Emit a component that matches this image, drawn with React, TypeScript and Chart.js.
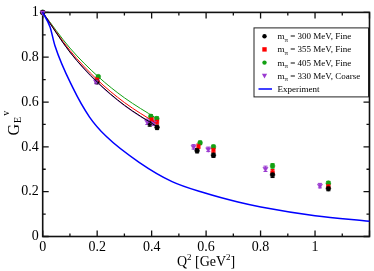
import React, { useEffect, useRef } from 'react';
import { Chart, registerables } from 'chart.js';
Chart.register(...registerables);

const FONT = '"Liberation Serif", "Times New Roman", serif';

// Lattice data (Q^2 in GeV^2, G_E^v)
const q300 = [0, 0.2, 0.393, 0.42, 0.567, 0.627, 0.844, 1.049];
const g300 = [1, 0.69, 0.504, 0.487, 0.383, 0.363, 0.275, 0.214];
const e300 = [0, 0.008, 0.012, 0.01, 0.01, 0.01, 0.012, 0.01];

const q355 = [0, 0.2, 0.4, 0.42, 0.572, 0.627, 0.844, 1.049];
const g355 = [1, 0.7, 0.522, 0.512, 0.403, 0.386, 0.287, 0.224];
const e355 = [0, 0.008, 0.01, 0.01, 0.01, 0.01, 0.012, 0.01];

const q405 = [0, 0.204, 0.397, 0.419, 0.578, 0.627, 0.844, 1.049];
const g405 = [1, 0.713, 0.536, 0.526, 0.418, 0.4, 0.315, 0.238];
const e405 = [0, 0.006, 0.008, 0.008, 0.008, 0.008, 0.01, 0.008];

const q330 = [0, 0.196, 0.384, 0.408, 0.554, 0.608, 0.818, 1.018];
const g330 = [1, 0.692, 0.512, 0.507, 0.4, 0.389, 0.302, 0.227];
const e330 = [0, 0.01, 0.012, 0.012, 0.01, 0.01, 0.012, 0.01];

// connecting fit curves for low-Q^2 points
const l300Q = [0, 0.1, 0.2, 0.3, 0.42];
const l300G = [1, 0.823, 0.69, 0.586, 0.49];
const l355Q = [0, 0.1, 0.2, 0.3, 0.42];
const l355G = [1, 0.83, 0.7, 0.598, 0.503];
const l405Q = [0, 0.1, 0.204, 0.3, 0.419];
const l405G = [1, 0.841, 0.713, 0.619, 0.526];
const l330Q = [0, 0.1, 0.196, 0.3, 0.408];
const l330G = [1, 0.822, 0.692, 0.584, 0.497];

// Experiment curve
const expQ = [0, 0.027, 0.045, 0.111, 0.172, 0.233, 0.354, 0.475, 0.596, 0.717, 0.801, 1.0, 1.2];
const expG = [1, 0.935, 0.851, 0.663, 0.533, 0.447, 0.331, 0.245, 0.194, 0.154, 0.132, 0.093, 0.068];

const xMajor = [0, 0.2, 0.4, 0.6, 0.8, 1.0, 1.2];
const xMinor = [0.1, 0.3, 0.5, 0.7, 0.9, 1.1];
const yMajor = [0, 0.2, 0.4, 0.6, 0.8, 1.0];
const yMinor = [0.1, 0.3, 0.5, 0.7, 0.9];

const C300 = '#000000';
const C355 = '#ff0000';
const C405 = '#12a012';
const C330 = '#9a3bd0';
const CEXP = '#0000ff';

const legendItems = [
  { pre: 'm', sub: 'π', post: ' = 300 MeV, Fine', color: C300, style: 'circle' },
  { pre: 'm', sub: 'π', post: ' = 355 MeV, Fine', color: C355, style: 'rect' },
  { pre: 'm', sub: 'π', post: ' = 405 MeV, Fine', color: C405, style: 'circle' },
  { pre: 'm', sub: 'π', post: ' = 330 MeV, Coarse', color: C330, style: 'tri' },
  { pre: 'Experiment', sub: '', post: '', color: CEXP, style: 'line' },
];

const zip = (xs: number[], ys: number[]) => xs.map((x, i) => ({ x, y: ys[i] }));

const framePlugin = {
  id: 'frameTicks',
  beforeDatasetsDraw(chart: any) {
    const { ctx, chartArea: a, scales } = chart;
    const xs = scales.x, ys = scales.y;
    ctx.save();
    ctx.strokeStyle = '#111';
    ctx.lineWidth = 1.3;
    ctx.beginPath();
    xMajor.forEach((v) => {
      const x = xs.getPixelForValue(v);
      ctx.moveTo(x, a.bottom); ctx.lineTo(x, a.bottom - 6);
      ctx.moveTo(x, a.top); ctx.lineTo(x, a.top + 6);
    });
    xMinor.forEach((v) => {
      const x = xs.getPixelForValue(v);
      ctx.moveTo(x, a.bottom); ctx.lineTo(x, a.bottom - 3);
      ctx.moveTo(x, a.top); ctx.lineTo(x, a.top + 3);
    });
    yMajor.forEach((v) => {
      const y = ys.getPixelForValue(v);
      ctx.moveTo(a.left, y); ctx.lineTo(a.left + 6, y);
      ctx.moveTo(a.right, y); ctx.lineTo(a.right - 6, y);
    });
    yMinor.forEach((v) => {
      const y = ys.getPixelForValue(v);
      ctx.moveTo(a.left, y); ctx.lineTo(a.left + 3, y);
      ctx.moveTo(a.right, y); ctx.lineTo(a.right - 3, y);
    });
    ctx.stroke();
    ctx.lineWidth = 1.6;
    ctx.strokeRect(a.left, a.top, a.right - a.left, a.bottom - a.top);
    ctx.restore();

    // error bars
    chart.data.datasets.forEach((ds: any) => {
      if (!ds.errors) return;
      ctx.save();
      ctx.strokeStyle = ds.borderColor;
      ctx.lineWidth = 1;
      ctx.beginPath();
      ds.data.forEach((p: any, j: number) => {
        const e = ds.errors[j];
        if (!e) return;
        const x = xs.getPixelForValue(p.x);
        const y1 = ys.getPixelForValue(p.y - e);
        const y2 = ys.getPixelForValue(p.y + e);
        ctx.moveTo(x, y1); ctx.lineTo(x, y2);
        ctx.moveTo(x - 2, y1); ctx.lineTo(x + 2, y1);
        ctx.moveTo(x - 2, y2); ctx.lineTo(x + 2, y2);
      });
      ctx.stroke();
      ctx.restore();
    });
  },
  afterDraw(chart: any) {
    const { ctx, chartArea: a } = chart;
    ctx.save();
    ctx.fillStyle = '#000';
    ctx.textBaseline = 'alphabetic';
    // x title: Q^2 [GeV^2]
    const big = `14px ${FONT}`;
    const sm = `9px ${FONT}`;
    const parts = [
      { t: 'Q', f: big, dy: 0 },
      { t: '2', f: sm, dy: -6 },
      { t: ' [GeV', f: big, dy: 0 },
      { t: '2', f: sm, dy: -6 },
      { t: ']', f: big, dy: 0 },
    ];
    let w = 0;
    parts.forEach((p) => { ctx.font = p.f; w += ctx.measureText(p.t).width; });
    let x = (a.left + a.right) / 2 - w / 2;
    const by = a.bottom + 29;
    parts.forEach((p) => {
      ctx.font = p.f; ctx.fillText(p.t, x, by + p.dy); x += ctx.measureText(p.t).width;
    });
    // y title: G_E^v rotated
    ctx.save();
    ctx.translate(18.5, (a.top + a.bottom) / 2 + 11);
    ctx.rotate(-Math.PI / 2);
    ctx.font = `16px ${FONT}`;
    ctx.fillText('G', 0, 0);
    let rx = ctx.measureText('G').width + 1;
    ctx.font = `10px ${FONT}`;
    ctx.fillText('E', rx, 2);
    rx += ctx.measureText('E').width + 1;
    ctx.fillText('v', rx, -10);
    ctx.restore();

    // legend box
    const L = a.right - 115.5, T = a.top + 15.5, R = a.right - 1, B = a.top + 84.5;
    ctx.fillStyle = '#fff';
    ctx.fillRect(L, T, R - L, B - T);
    ctx.strokeStyle = '#222';
    ctx.lineWidth = 1;
    ctx.strokeRect(L, T, R - L, B - T);
    legendItems.forEach((it, i) => {
      const cy = T + 8.3 + i * 13.2;
      const sx = L + 10.5;
      ctx.fillStyle = it.color;
      ctx.strokeStyle = it.color;
      if (it.style === 'circle') {
        ctx.beginPath(); ctx.arc(sx, cy, 2.2, 0, Math.PI * 2); ctx.fill();
      } else if (it.style === 'rect') {
        ctx.fillRect(sx - 2.2, cy - 2.2, 4.4, 4.4);
      } else if (it.style === 'tri') {
        ctx.beginPath(); ctx.moveTo(sx - 2.6, cy - 2); ctx.lineTo(sx + 2.6, cy - 2); ctx.lineTo(sx, cy + 2.6); ctx.closePath(); ctx.fill();
      } else {
        ctx.lineWidth = 1.5;
        ctx.beginPath(); ctx.moveTo(L + 4.5, cy); ctx.lineTo(L + 18, cy); ctx.stroke();
      }
      ctx.fillStyle = '#000';
      let tx = L + 23.5;
      const base = cy + 3;
      ctx.font = `9px ${FONT}`;
      ctx.fillText(it.pre, tx, base); tx += ctx.measureText(it.pre).width;
      if (it.sub) {
        ctx.font = `7px ${FONT}`;
        ctx.fillText(it.sub, tx, base + 2.5); tx += ctx.measureText(it.sub).width;
      }
      ctx.font = `9px ${FONT}`;
      ctx.fillText(it.post, tx, base);
    });
    ctx.restore();
  },
};

const fmt = (v: number) => String(Math.round(v * 10) / 10);

export default function App() {
  const ref = useRef<HTMLCanvasElement | null>(null);
  useEffect(() => {
    document.body.style.margin = '0';
    const mk = (q: number[], g: number[], e: number[], color: string, style: any, r: number, rot = 0) => ({
      type: 'scatter' as const,
      data: zip(q, g),
      errors: e,
      showLine: false,
      borderColor: color,
      backgroundColor: color,
      pointStyle: style,
      pointRadius: r,
      pointBorderWidth: 0.5,
      pointRotation: rot,
      clip: false as any,
    });
    const ln = (q: number[], g: number[], color: string, width = 1) => ({
      type: 'line' as const,
      data: zip(q, g),
      borderColor: color,
      backgroundColor: color,
      borderWidth: width,
      pointRadius: 0,
      cubicInterpolationMode: 'monotone' as const,
      fill: false,
      clip: false as any,
    });
    const chart = new Chart(ref.current as HTMLCanvasElement, {
      type: 'scatter',
      data: {
        datasets: [
          ln(expQ, expG, CEXP, 1.5),
          ln(l300Q, l300G, C300),
          ln(l330Q, l330G, C330),
          ln(l355Q, l355G, C355),
          ln(l405Q, l405G, C405),
          mk(q330, g330, e330, C330, 'triangle', 3, 180),
          mk(q300, g300, e300, C300, 'circle', 2.4),
          mk(q355, g355, e355, C355, 'rect', 2.5),
          mk(q405, g405, e405, C405, 'circle', 2.4),
        ] as any,
      },
      options: {
        responsive: false,
        animation: false,
        devicePixelRatio: 1,
        layout: { padding: { top: 5.5, right: 1.3, left: 0, bottom: 0 } },
        plugins: { legend: { display: false }, tooltip: { enabled: false } },
        scales: {
          x: {
            type: 'linear',
            min: 0,
            max: 1.2,
            afterFit: (s: any) => { s.height = 34.5; },
            grid: { display: false, drawTicks: false },
            border: { display: false },
            ticks: {
              stepSize: 0.2,
              padding: 2,
              maxRotation: 0,
              autoSkip: false,
              color: '#000',
              font: { family: FONT, size: 14 },
              callback: (v: any) => (Number(v) > 1.1 ? '' : fmt(Number(v))),
            },
          },
          y: {
            type: 'linear',
            min: 0,
            max: 1,
            afterFit: (s: any) => { s.width = 42.7; },
            grid: { display: false, drawTicks: false },
            border: { display: false },
            ticks: {
              stepSize: 0.2,
              padding: 4,
              color: '#000',
              font: { family: FONT, size: 14 },
              callback: (v: any) => fmt(Number(v)),
            },
          },
        },
      } as any,
      plugins: [framePlugin],
    });
    return () => chart.destroy();
  }, []);
  return (
    <div style={{ position: 'absolute', left: 0, top: 0, width: 374, height: 271, background: '#fff' }}>
      <canvas ref={ref} width={374} height={271} />
    </div>
  );
}
